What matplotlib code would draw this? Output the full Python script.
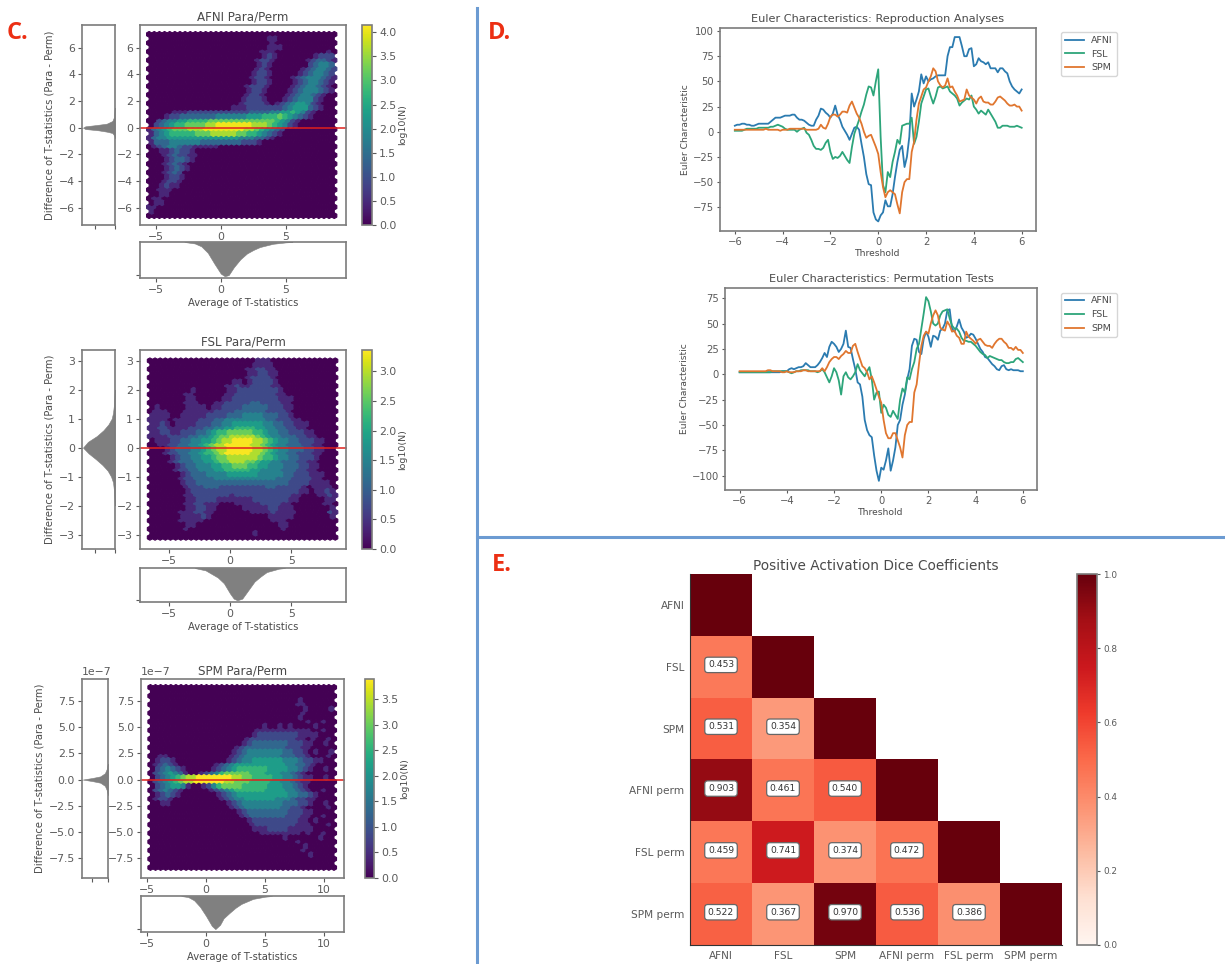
import numpy as np
import matplotlib
matplotlib.use('Agg')
import matplotlib.pyplot as plt
from matplotlib.lines import Line2D

W, H = 1225, 964

# log10(N) levels, top row first, one digit per hexagon
afni_rows = [
    "0000000000000000000000000000000000000",
    "0000000000000000000000011000000000000",
    "0000000000000000000000001000000000000",
    "0000000000000000000000011100000000000",
    "0000000000000000000000111000000000010",
    "0000000000000000000000121000000012221",
    "0000000000000000000001221000000123321",
    "0000000000000000000001210000000234432",
    "0000000000000000000001210000001234432",
    "0000000000000000000012210000012344321",
    "0000000000000000000012210000123444321",
    "0000000000000000000012210000123443210",
    "0000000000000000000122210000123443210",
    "0000000000000000000122100001234443210",
    "0000000000000000000122100001234432100",
    "0000000000000000001222100012344421000",
    "0000000000000000001222210123455421000",
    "0000000000000000111222222234555321000",
    "0000011122222222222233334455654210000",
    "0001223333333444444555666765432100000",
    "0023445566667777777777777654210000000",
    "0234566777788999999988876542100000000",
    "1345677788899999999887654320000000000",
    "1345666667778888877665432100000000000",
    "1344555555555555554443321000000000000",
    "1333444444333333332221000000000000000",
    "0123443221111100000000000000000000000",
    "0011232210000000000000000000000000000",
    "0001232211000000000000000000000000000",
    "0001233210000000000000000000000000000",
    "0001232100000000000000000000000000000",
    "0001232100000000000000000000000000000",
    "0001232000000000000000000000000000000",
    "0001221000000000000000000000000000000",
    "0001221000000000000000000000000000000",
    "0012110000000000000000000000000000000",
    "0011100000000000000000000000000000000",
    "0011000000000000000000000000000000000",
    "0110000000000000000000000000000000000",
    "0110000000000000000000000000000000000",
    "1100000000000000000000000000000000000",
    "1000000000000000000000000000000000000",
    "0000000000000000000000000000000000000",
]
fsl_rows = [
    "0000000000000000000001110000000000000",
    "0000000000000000000011110000000000000",
    "0000000000000000000112211000000000000",
    "0000000000000000000112211000000000000",
    "0000000000000000000122221000000000000",
    "0000000000000000110122221000000000000",
    "0000000000000001121122221100000000000",
    "0000000010000001122222222100000000000",
    "0000000110000001122222222110000000000",
    "0000000110000011222222222111000000000",
    "0000000111000112222233222211000000000",
    "0100000111101122223333322211000000000",
    "0111000111111222233333322221000000000",
    "1111001111122223334444333221000000000",
    "1111011111222334444444433222110000000",
    "1121011112223344555555443322111000000",
    "1122111122233445566665544332211000000",
    "1122112223345667777766544332221100000",
    "1111222233445677888887654433322110000",
    "0111223344556788999988765443322211000",
    "0011223344567889999988765443332211000",
    "0001233344567889999988765443332211000",
    "0001223344566789999988765443322211000",
    "0000123344556778888887665443322210000",
    "0000123334455677888776554433322110000",
    "0000012334445566777665544433322110000",
    "0000012233444556666655444433322110000",
    "0000001233344445555554444433222111000",
    "0000001223333444444444444333222211000",
    "0000001223333333333333333332222111100",
    "0000000122233322222222233222221011110",
    "0000000122222222222222222222211011211",
    "0000000112222222122222222222110001121",
    "0000000112222111111122222221100000111",
    "0000000112211100011111222211000000110",
    "0000000112211000001111122111000000011",
    "0000001112211000000011112111100000021",
    "0000001111210000000000011111000000010",
    "0000001111100000000000001110000000000",
    "0000000110000000000000000110000000000",
    "0000000100000000000000000010000000000",
    "0000000000000000000010000000000000000",
    "0000000000000000000000000000000000000",
]
spm_rows = [
    "0000000000000000000000000000000000000",
    "0000000000000000000000000000000000000",
    "0000000000000000000000000000000000000",
    "0000000000000000000000000000010000000",
    "0000000000000000000000000000011000000",
    "0000000000000000000000000000001000010",
    "0000000000000000000000000000001000000",
    "0000000000000000000000000000010000000",
    "0000000000000000000000000000000100100",
    "0000000000000000000000100101000010000",
    "0000000000000000000001111111111100100",
    "0000000000000000000012222222211110000",
    "0000000000000000000122222222211010010",
    "0000000000000000001233333332221100100",
    "0000000000000000012333333332221100000",
    "0000000000000000123444444433221010010",
    "0011000000000000123444444433322100010",
    "0122100000000001234455555544432211000",
    "0123210000000123455555555554433210000",
    "0234321000001234566666655554432100100",
    "0234543100123467777766655544321000000",
    "0234567889999999887766665544321100100",
    "0234567889999998877766665544321100000",
    "0234554100124677776666655544321000000",
    "0234321000001234566666655554432100100",
    "0123210000000123455555555554433210000",
    "0122100000000012344555555444322110000",
    "0011000000000001234444444433322100100",
    "0000000000000000123444444433221000010",
    "0000000000000000012333333332221100000",
    "0000000000000000001233333332221100100",
    "0000000000000000000122222222211010000",
    "0000000000000000000012222222211100010",
    "0000000000000000000011122221111100000",
    "0000000000000000000000111111110100100",
    "0000000000000000000000000010000001000",
    "0000000000000000000000000000010000000",
    "0000000000000000000000000000001000000",
    "0000000000000000000000000000001000000",
    "0000000000000000000000000000000100000",
    "0000000000000000000000000000000000000",
    "0000000000000000000000000000000000000",
    "0000000000000000000000000000000000000",
]

# marginal histograms, depth as a fraction of the small axes
afni_left_y = [-0.8, -0.6, -0.4, -0.3, -0.2, -0.1, 0, 0.1, 0.2, 0.3, 0.5, 0.8, 1.5]
afni_left_d = [0, 0.02, 0.08, 0.25, 0.5, 0.9, 0.97, 0.9, 0.55, 0.25, 0.08, 0.03, 0.01]
afni_bot_x = [-2.8, -2, -1.5, -1, -0.5, 0, 0.3, 0.6, 1, 1.5, 2, 2.5, 3, 4, 5, 5.5]
afni_bot_d = [0, 0.04, 0.12, 0.3, 0.6, 0.88, 0.95, 0.92, 0.7, 0.48, 0.32, 0.22, 0.14, 0.05, 0.01, 0]

fsl_left_y = [-2, -1.9, -1.5, -1.2, -1, -0.8, -0.6, -0.4, -0.2, 0, 0.2, 0.4, 0.6, 0.8, 1, 1.2, 1.5, 2]
fsl_left_d = [0, 0.01, 0.03, 0.06, 0.12, 0.22, 0.38, 0.58, 0.8, 0.97, 0.82, 0.55, 0.35, 0.2, 0.1, 0.06, 0.03, 0.01]
fsl_bot_x = [-2.9, -2, -1, -0.5, 0, 0.3, 0.6, 1, 1.5, 2, 2.5, 3, 4, 4.5]
fsl_bot_d = [0, 0.07, 0.28, 0.45, 0.75, 0.9, 0.95, 0.9, 0.65, 0.4, 0.25, 0.12, 0.02, 0]

spm_left_y = [-1.5, -1, -0.6, -0.3, -0.15, 0, 0.15, 0.3, 0.6, 1, 1.5]
spm_left_d = [0, 0.05, 0.12, 0.3, 0.6, 0.97, 0.6, 0.3, 0.12, 0.05, 0.01]
spm_bot_x = [-2.1, -1.5, -1, -0.5, 0, 0.5, 0.8, 1.2, 1.5, 2, 2.5, 3, 4, 5, 5.6]
spm_bot_d = [0, 0.03, 0.12, 0.3, 0.55, 0.83, 0.92, 0.8, 0.62, 0.47, 0.33, 0.22, 0.08, 0.02, 0]

# euler characteristics, one value every 0.1 from -6 to 6
thresholds = np.linspace(-6, 6, 121)
repro_afni = [6, 7, 7, 8, 8, 7, 7, 6, 6, 7,
              8, 8, 8, 8, 8, 10, 12, 14, 14, 14,
              15, 16, 16, 16, 17, 17, 14, 12, 12, 11,
              9, 7, 6, 6, 12, 16, 23, 22, 19, 17,
              14, 18, 26, 17, 12, 5, 1, -3, -8, -2,
              4, 5, 2, -12, -25, -42, -52, -53, -80, -87,
              -89, -83, -80, -68, -74, -74, -62, -45, -30, -18,
              -14, -35, -25, -5, 38, 25, 32, 40, 57, 48,
              55, 50, 52, 53, 55, 56, 56, 56, 56, 75,
              84, 84, 94, 94, 94, 85, 75, 75, 82, 83,
              65, 67, 73, 70, 69, 67, 69, 63, 63, 63,
              59, 63, 63, 60, 58, 50, 45, 42, 40, 38, 42]
repro_fsl = [1, 1, 1, 1, 2, 3, 3, 3, 3, 3,
             4, 4, 4, 4, 4, 5, 5, 6, 7, 6,
             5, 3, 2, 2, 2, 2, 0, 2, 3, 4,
             -1, -3, -8, -14, -17, -17, -18, -16, -11, -8,
             -20, -27, -25, -26, -24, -20, -24, -28, -31, -15,
             -2, 5, 12, 20, 27, 37, 45, 44, 36, 50,
             62, -5, -53, -60, -40, -45, -30, -20, -8, -12,
             6, 7, 8, 8, 14, -12, -5, 10, 28, 35,
             42, 43, 35, 28, 35, 44, 45, 43, 44, 45,
             40, 38, 36, 33, 26, 29, 31, 33, 32, 36,
             25, 22, 18, 21, 19, 17, 22, 18, 14, 10,
             4, 4, 6, 6, 6, 5, 5, 5, 6, 5, 4]
repro_spm = [2, 2, 2, 2, 2, 2, 2, 2, 2, 2,
             2, 2, 2, 3, 2, 2, 2, 2, 2, 1,
             2, 2, 2, 3, 3, 3, 3, 3, 3, 3,
             2, 2, 2, 2, 2, 3, 7, 4, 3, 8,
             15, 17, 17, 15, 17, 20, 20, 19, 26, 30,
             24, 18, 14, 8, 0, -6, -4, -3, -9, -15,
             -22, -40, -55, -65, -60, -58, -60, -62, -72, -81,
             -60, -50, -47, -47, -20, -10, 12, 28, 35, 42,
             44, 50, 55, 63, 60, 50, 46, 44, 46, 53,
             44, 45, 40, 36, 30, 31, 32, 42, 36, 34,
             32, 28, 33, 35, 30, 29, 29, 27, 27, 30,
             34, 35, 33, 31, 28, 26, 26, 27, 25, 25, 21]
perm_afni = [2, 2, 2, 2, 2, 2, 2, 2, 2, 2,
             2, 2, 2, 2, 2, 2, 2, 2, 3, 3,
             3, 5, 6, 5, 6, 7, 7, 8, 11, 9,
             7, 7, 7, 9, 12, 16, 21, 17, 27, 32,
             30, 27, 22, 25, 30, 43, 27, 26, 15, 5,
             -8, -10, -22, -45, -55, -60, -62, -80, -95, -105,
             -92, -94, -85, -73, -95, -85, -72, -50, -45, -30,
             -20, -5, 5, 28, 35, 34, 22, 20, 35, 42,
             37, 27, 38, 37, 34, 43, 45, 50, 63, 64,
             45, 42, 47, 54, 46, 42, 36, 37, 40, 39,
             35, 30, 25, 22, 17, 16, 13, 10, 8, 5,
             4, 8, 9, 5, 4, 5, 4, 4, 4, 3, 3]
perm_fsl = [2, 2, 2, 2, 2, 2, 2, 2, 2, 2,
            2, 2, 2, 2, 3, 3, 3, 3, 3, 3,
            3, 2, 1, 2, 3, 3, 4, 4, 4, 4,
            3, 3, 3, 2, 3, 5, 2, -3, -8, -2,
            6, 2, -6, -20, -2, 2, -3, -5, -2, 2,
            10, 4, 1, -2, 3, 7, -5, -25, -18, -17,
            -38, -30, -33, -40, -42, -36, -40, -44, -25, -14,
            -18, -3, -5, 5, 12, 25, 30, 45, 60, 76,
            72, 62, 50, 48, 50, 58, 62, 63, 64, 55,
            48, 45, 45, 42, 36, 33, 33, 32, 32, 30,
            28, 25, 22, 20, 19, 16, 18, 17, 16, 15,
            14, 14, 12, 11, 11, 12, 12, 15, 16, 14, 12]
perm_spm = [3, 3, 3, 3, 3, 3, 3, 3, 3, 3,
            3, 3, 4, 4, 3, 3, 3, 3, 2, 2,
            3, 2, 2, 2, 3, 3, 3, 4, 4, 3,
            3, 3, 3, 3, 3, 6, 3, 7, 12, 15,
            17, 17, 15, 18, 20, 23, 21, 21, 28, 30,
            22, 15, 8, 6, 2, -5, -2, -8, -15, -22,
            -28, -45, -58, -63, -63, -58, -58, -65, -72, -82,
            -60, -50, -47, -47, -18, -10, 10, 28, 38, 42,
            40, 50, 58, 63, 58, 46, 44, 43, 52, 48,
            42, 43, 38, 36, 30, 30, 42, 37, 35, 33,
            30, 34, 35, 32, 29, 28, 28, 26, 30, 33,
            35, 35, 32, 30, 26, 26, 24, 27, 24, 24, 21]

dice_labels = ['AFNI', 'FSL', 'SPM', 'AFNI perm', 'FSL perm', 'SPM perm']
dice = [[1.0, np.nan, np.nan, np.nan, np.nan, np.nan],
        [0.453, 1.0, np.nan, np.nan, np.nan, np.nan],
        [0.531, 0.354, 1.0, np.nan, np.nan, np.nan],
        [0.903, 0.461, 0.540, 1.0, np.nan, np.nan],
        [0.459, 0.741, 0.374, 0.472, 1.0, np.nan],
        [0.522, 0.367, 0.970, 0.536, 0.386, 1.0]]

plt.rcParams['text.color'] = '#4a4a4a'
plt.rcParams['axes.labelcolor'] = '#4a4a4a'
plt.rcParams['axes.titlecolor'] = '#4a4a4a'
plt.rcParams['xtick.color'] = '#5a5a5a'
plt.rcParams['ytick.color'] = '#5a5a5a'
plt.rcParams['axes.edgecolor'] = '#7c7c7c'
plt.rcParams['axes.linewidth'] = 1.2

fig = plt.figure(figsize=(W / 100, H / 100), dpi=100)


def px_axes(left, top, right, bottom):
    return fig.add_axes([left / W, 1 - bottom / H, (right - left) / W, (bottom - top) / H])


def hex_panel(rows, step, extent, xlim, ylim, xticks, yticks, yscale, vmax, cbticks, title, box, left_x, bot_y, cb_x,
              left_data, bot_data):
    left, top, right, bottom = box
    xmin, xmax, ymin, ymax = extent
    nx, ny = 36, 21
    dx = (xmax - xmin) / nx
    dy = (ymax - ymin) / ny
    xs, ys, cs = [], [], []
    for r, row in enumerate(rows):
        count = nx + 1 if r % 2 == 0 else nx
        off = 0 if r % 2 == 0 else 0.5
        for i in range(count):
            xs.append(xmin + (i + off) * dx)
            ys.append((ymax - r * dy / 2) * yscale)
            cs.append(int(row[i]) * step)

    ax = px_axes(left, top, right, bottom)
    hb = ax.hexbin(xs, ys, C=cs, gridsize=(nx, ny), extent=(xmin, xmax, ymin * yscale, ymax * yscale),
                   reduce_C_function=np.mean, cmap='viridis', vmin=0, vmax=vmax, linewidths=0.8)
    ax.axhline(0, color='#e0201c', lw=1.1, clip_on=False)
    ax.set_xlim(xlim)
    ax.set_ylim(ylim[0] * yscale, ylim[1] * yscale)
    ax.set_xticks(xticks)
    ax.set_yticks([t * yscale for t in yticks])
    ax.tick_params(labelsize=7.8, length=3, pad=2)
    ax.yaxis.get_offset_text().set_fontsize(7.8)
    ax.set_title(title, fontsize=8.6, pad=3)

    axl = px_axes(left_x[0], top, left_x[1], bottom)
    ly, ld = left_data
    axl.fill_betweenx(np.array(ly) * yscale, 0, ld, color='#808080', lw=0.4)
    axl.set_xlim(1.0, 0)
    axl.set_ylim(ylim[0] * yscale, ylim[1] * yscale)
    axl.set_xticks([0.6, 0])
    axl.set_yticks([t * yscale for t in yticks])
    axl.tick_params(labelsize=7.8, length=3, pad=2, labelbottom=False)
    axl.yaxis.get_offset_text().set_fontsize(7.8)
    axl.set_ylabel('Difference of T-statistics (Para - Perm)', fontsize=7.2, labelpad=3)

    axb = px_axes(left, bot_y[0], right, bot_y[1])
    bx, bd = bot_data
    axb.fill_between(bx, 0, bd, color='#808080', lw=0.4)
    axb.set_xlim(xlim)
    axb.set_ylim(1.0, 0)
    axb.set_xticks(xticks)
    axb.set_yticks([0.93])
    axb.tick_params(labelsize=7.8, length=3, pad=2, labelleft=False)
    axb.set_xlabel('Average of T-statistics', fontsize=7.2, labelpad=2)

    cax = px_axes(cb_x[0], top, cb_x[1], bottom)
    cb = fig.colorbar(hb, cax=cax, ticks=cbticks)
    cb.ax.tick_params(labelsize=7.8, length=3, pad=2)
    cb.set_label('log10(N)', fontsize=6.8, labelpad=1)
    cb.outline.set_edgecolor('#7c7c7c')


hex_panel(afni_rows, 0.45, (-5.5, 8.7, -6.6, 7.0), (-6.2, 9.6), (-7.3, 7.7), [-5, 0, 5], [-6, -4, -2, 0, 2, 4, 6], 1,
          4.15, [0, 0.5, 1, 1.5, 2, 2.5, 3, 3.5, 4], 'AFNI Para/Perm', (140, 25, 346, 225), (82, 115), (242, 278),
          (362, 372), (afni_left_y, afni_left_d), (afni_bot_x, afni_bot_d))
hex_panel(fsl_rows, 0.37, (-6.55, 8.6, -3.1, 3.0), (-7.36, 9.48), (-3.5, 3.37), [-5, 0, 5], [-3, -2, -1, 0, 1, 2, 3], 1,
          3.36, [0, 0.5, 1, 1.5, 2, 2.5, 3], 'FSL Para/Perm', (140, 350, 346, 549), (82, 115), (568, 602),
          (362, 372), (fsl_left_y, fsl_left_d), (fsl_bot_x, fsl_bot_d))
hex_panel(spm_rows, 0.43, (-4.7, 10.85, -8.4, 8.8), (-5.5, 11.7), (-9.4, 9.6), [-5, 0, 5, 10],
          [-7.5, -5, -2.5, 0, 2.5, 5, 7.5], 1e-7, 3.9, [0, 0.5, 1, 1.5, 2, 2.5, 3, 3.5], 'SPM Para/Perm',
          (141, 679, 344, 878), (82, 108), (896, 932), (365, 374), (spm_left_y, spm_left_d), (spm_bot_x, spm_bot_d))

# euler line plots
afni_col, fsl_col, spm_col = '#2b7bb0', '#2da57a', '#e0762f'


def euler_panel(box, afni, fsl, spm, ylim, yticks, title, legend_at):
    ax = px_axes(*box)
    ax.plot(thresholds, afni, color=afni_col, lw=1.3, label='AFNI')
    ax.plot(thresholds, fsl, color=fsl_col, lw=1.3, label='FSL')
    ax.plot(thresholds, spm, color=spm_col, lw=1.3, label='SPM')
    ax.set_xlim(-6.62, 6.6)
    ax.set_ylim(ylim)
    ax.set_xticks([-6, -4, -2, 0, 2, 4, 6])
    ax.set_yticks(yticks)
    ax.tick_params(labelsize=7.2, length=2.5, pad=2)
    ax.set_xlabel('Threshold', fontsize=6.6, labelpad=1)
    ax.set_ylabel('Euler Characteristic', fontsize=6.6, labelpad=2)
    ax.set_title(title, fontsize=8.1, pad=4)
    ax.legend(loc='upper left', bbox_to_anchor=legend_at, fontsize=6.8, borderaxespad=0)


euler_panel((720, 28, 1036, 231), repro_afni, repro_fsl, repro_spm, (-98.5, 103),
            [-75, -50, -25, 0, 25, 50, 75, 100], 'Euler Characteristics: Reproduction Analyses', (1.079, 0.98))
euler_panel((725, 288, 1037, 490), perm_afni, perm_fsl, perm_spm, (-114, 85),
            [-100, -75, -50, -25, 0, 25, 50, 75], 'Euler Characteristics: Permutation Tests', (1.077, 0.977))

# dice heatmap
ax = px_axes(690, 574, 1062, 945)
im = ax.imshow(np.ma.masked_invalid(np.array(dice)), cmap='Reds', vmin=0, vmax=1, aspect='auto')
ax.set_xticks(range(6))
ax.set_xticklabels(dice_labels)
ax.set_yticks(range(6))
ax.set_yticklabels(dice_labels)
ax.tick_params(labelsize=7.6, length=0, pad=4)
ax.spines['top'].set_visible(False)
ax.spines['right'].set_visible(False)
ax.spines['left'].set_color('#333333')
ax.spines['bottom'].set_color('#333333')
ax.spines['left'].set_linewidth(0.8)
ax.spines['bottom'].set_linewidth(0.8)
ax.set_title('Positive Activation Dice Coefficients', fontsize=9.8, pad=3)
for i in range(6):
    for j in range(i):
        ax.text(j, i - 0.03, '%.3f' % dice[i][j], ha='center', va='center', fontsize=6.6, color='#333333',
                bbox=dict(boxstyle='round,pad=0.35', fc='white', ec='#666666', lw=0.9))
cax = px_axes(1077, 574, 1097, 945)
cb = fig.colorbar(im, cax=cax, ticks=[0, 0.2, 0.4, 0.6, 0.8, 1.0])
cb.ax.tick_params(labelsize=6.4, length=2.5, pad=2)
cb.outline.set_edgecolor('#7c7c7c')

# panel dividers and letters
div = '#6c9bd2'
fig.add_artist(Line2D([477 / W, 477 / W], [0, 1 - 8 / H], color=div, lw=2.2))
fig.add_artist(Line2D([477 / W, 1], [1 - 537 / H, 1 - 537 / H], color=div, lw=2.2))
for lab, x, y in [('C.', 7, 33), ('D.', 488, 33), ('E.', 492, 565)]:
    fig.text(x / W, 1 - y / H, lab, color='#ec2f13', fontsize=17, fontweight='bold', family='Open Sans',
             ha='left', va='center')

fig.savefig('out.png', dpi=100)
